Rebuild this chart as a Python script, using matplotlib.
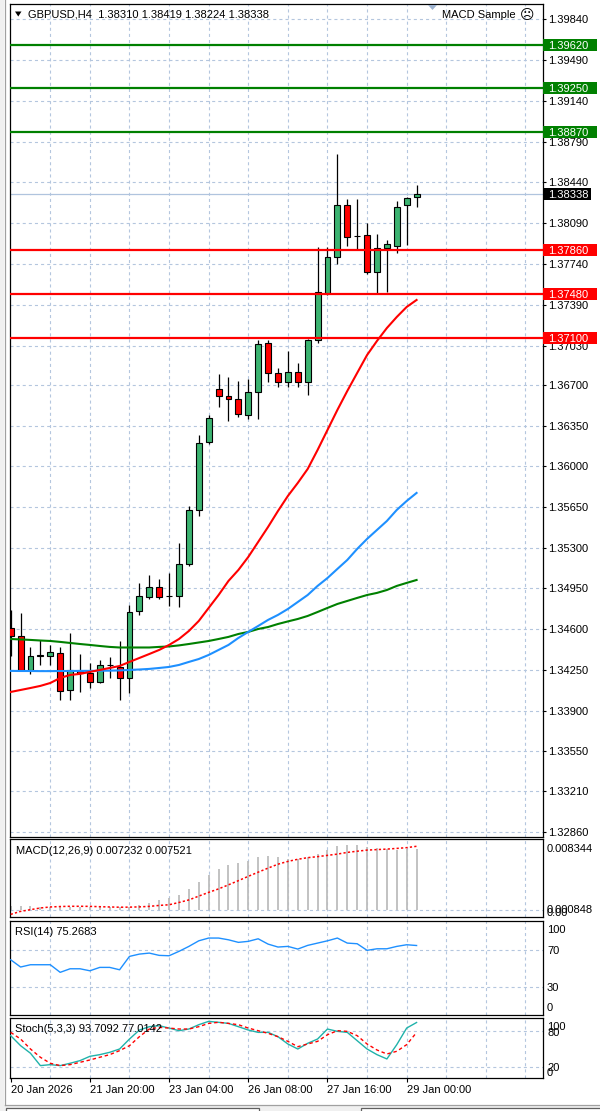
import numpy as np
import matplotlib
matplotlib.use("Agg")
import matplotlib.pyplot as plt
import matplotlib.transforms as mtransforms
from matplotlib.patches import Rectangle, Polygon
from matplotlib.lines import Line2D

plt.rcParams['font.family'] = ['Liberation Sans', 'DejaVu Sans']
plt.rcParams['font.size'] = 8
plt.rcParams['lines.scale_dashes'] = False

# ---------------- data (GBPUSD H4) ----------------
opens = [1.34608, 1.34542, 1.34246, 1.34370, 1.34373, 1.34394, 1.34078, 1.34242, 1.34224, 1.34143,
         1.34290, 1.34272, 1.34179, 1.34753, 1.34875, 1.34966, 1.34888, 1.34886, 1.35158, 1.35622,
         1.36209, 1.36662, 1.36607, 1.36576, 1.36437, 1.36636, 1.37062, 1.36799, 1.36720, 1.36806,
         1.36720, 1.37085, 1.37487, 1.37801, 1.38245, 1.37980, 1.37988, 1.37672, 1.37873, 1.37893,
         1.38245, 1.38310]
highs = [1.34766, 1.34737, 1.34450, 1.34508, 1.34465, 1.34450, 1.34568, 1.34388, 1.34314, 1.34332,
         1.34362, 1.34499, 1.34809, 1.34998, 1.35066, 1.35032, 1.35083, 1.35341, 1.35655, 1.36269,
         1.36441, 1.36789, 1.36766, 1.36733, 1.36748, 1.37085, 1.37085, 1.36842, 1.36991, 1.36885,
         1.37094, 1.37887, 1.37887, 1.38684, 1.38293, 1.38295, 1.38088, 1.37994, 1.37945, 1.38280,
         1.38317, 1.38419]
lows = [1.34370, 1.34240, 1.34216, 1.34293, 1.34293, 1.33988, 1.33988, 1.34064, 1.34093, 1.34134,
        1.34177, 1.33988, 1.34050, 1.34723, 1.34858, 1.34858, 1.34800, 1.34794, 1.35144, 1.35576,
        1.36192, 1.36510, 1.36392, 1.36426, 1.36404, 1.36404, 1.36727, 1.36679, 1.36679, 1.36679,
        1.36613, 1.37060, 1.37472, 1.37734, 1.37890, 1.37865, 1.37652, 1.37481, 1.37500, 1.37830,
        1.37902, 1.38224]
closes = [1.34538, 1.34246, 1.34370, 1.34375, 1.34405, 1.34065, 1.34246, 1.34222, 1.34150, 1.34293,
          1.34295, 1.34179, 1.34744, 1.34882, 1.34966, 1.34875, 1.34883, 1.35158, 1.35622, 1.36203,
          1.36418, 1.36604, 1.36576, 1.36447, 1.36637, 1.37049, 1.36799, 1.36720, 1.36806, 1.36720,
          1.37085, 1.37495, 1.37801, 1.38245, 1.37968, 1.37975, 1.37672, 1.37873, 1.37908, 1.38226,
          1.38303, 1.38338]

ma_red = [1.34061, 1.34078, 1.34095, 1.34113, 1.34138, 1.34181, 1.34207, 1.34216, 1.34233, 1.34250,
          1.34267, 1.34284, 1.34319, 1.34353, 1.34387, 1.34422, 1.34465, 1.34516, 1.34585, 1.34671,
          1.34783, 1.34894, 1.35015, 1.35109, 1.35221, 1.35350, 1.35479, 1.35616, 1.35745, 1.35857,
          1.35977, 1.36140, 1.36312, 1.36484, 1.36647, 1.36802, 1.36956, 1.37077, 1.37188, 1.37283,
          1.37369, 1.37429]
ma_blue = [1.34242, 1.34241, 1.34241, 1.34240, 1.34240, 1.34241, 1.34241, 1.34242, 1.34242, 1.34243,
           1.34244, 1.34246, 1.34250, 1.34254, 1.34259, 1.34267, 1.34276, 1.34293, 1.34319, 1.34344,
           1.34379, 1.34422, 1.34465, 1.34525, 1.34577, 1.34628, 1.34680, 1.34723, 1.34774, 1.34834,
           1.34894, 1.34972, 1.35040, 1.35118, 1.35195, 1.35290, 1.35376, 1.35453, 1.35530, 1.35625,
           1.35702, 1.35771]
ma_green = [1.34516, 1.34512, 1.34508, 1.34503, 1.34499, 1.34491, 1.34482, 1.34473, 1.34465, 1.34456,
            1.34448, 1.34443, 1.34443, 1.34443, 1.34443, 1.34448, 1.34452, 1.34461, 1.34473, 1.34486,
            1.34499, 1.34516, 1.34534, 1.34559, 1.34577, 1.34602, 1.34619, 1.34645, 1.34667, 1.34688,
            1.34714, 1.34748, 1.34783, 1.34817, 1.34843, 1.34869, 1.34894, 1.34912, 1.34937, 1.34972,
            1.34998, 1.35023]

macd_main = [0.00050, 0.00050, 0.00048, 0.00042, 0.00040, 0.00038, 0.00036, 0.00035, 0.00034, 0.00035,
             0.00034, 0.00033, 0.00040, 0.00057, 0.00084, 0.00124, 0.00140, 0.00183, 0.00250, 0.00332,
             0.00408, 0.00479, 0.00534, 0.00550, 0.00577, 0.00625, 0.00636, 0.00628, 0.00605, 0.00600,
             0.00620, 0.00660, 0.00710, 0.00755, 0.00763, 0.00770, 0.00747, 0.00730, 0.00715, 0.00712,
             0.00718, 0.007232]
macd_signal = [-0.00050, -0.00015, 0.00005, 0.00025, 0.00037, 0.00042, 0.00045, 0.00045, 0.00044, 0.00040,
               0.00037, 0.00034, 0.00035, 0.00038, 0.00044, 0.00055, 0.00063, 0.00090, 0.00120, 0.00165,
               0.00209, 0.00250, 0.00298, 0.00347, 0.00398, 0.00447, 0.00495, 0.00541, 0.00574, 0.00599,
               0.00618, 0.00630, 0.00645, 0.00660, 0.00680, 0.00694, 0.00707, 0.00713, 0.00719, 0.00727,
               0.00736, 0.007521]
rsi = [59.7, 51.8, 54.3, 54.3, 54.3, 46.0, 49.9, 49.9, 47.7, 51.4,
       51.4, 48.8, 63.4, 65.9, 67.0, 64.5, 64.1, 68.9, 74.3, 80.4,
       83.4, 83.4, 81.5, 78.7, 79.8, 82.6, 76.8, 73.6, 74.3, 71.4,
       75.4, 77.9, 80.4, 83.4, 77.9, 77.2, 70.0, 71.7, 71.7, 74.3,
       76.1, 75.27]
stoch_main = [71.7, 55.0, 42.3, 21.7, 23.3, 21.7, 25.6, 30.0, 37.2, 40.0,
              43.9, 49.4, 66.1, 81.1, 86.7, 88.3, 84.4, 80.0, 82.8, 90.0,
              95.6, 94.0, 92.2, 86.7, 81.1, 77.2, 77.2, 70.0, 57.8, 49.4,
              58.9, 66.1, 82.8, 78.9, 77.2, 63.3, 49.4, 40.0, 32.8, 56.7,
              84.4, 93.7]
stoch_signal = [77.2, 66.1, 49.4, 35.6, 25.6, 21.7, 23.3, 27.2, 31.1, 35.6,
                40.0, 46.7, 55.0, 70.0, 82.8, 85.6, 84.4, 82.8, 82.8, 86.7,
                92.2, 94.0, 92.2, 90.0, 84.4, 80.0, 75.6, 70.0, 62.2, 53.3,
                57.8, 62.2, 73.3, 80.0, 78.9, 71.7, 57.8, 47.8, 41.1, 45.6,
                56.7, 77.0]

resistance_levels = [1.39620, 1.39250, 1.38870]
support_levels = [1.37860, 1.37480, 1.37100]
last_price = 1.38338
price_ticks = [1.39840, 1.39490, 1.39140, 1.38790, 1.38440, 1.38090, 1.37740, 1.37390, 1.37030,
               1.36700, 1.36350, 1.36000, 1.35650, 1.35300, 1.34950, 1.34600, 1.34250, 1.33900,
               1.33550, 1.33210, 1.32860]
date_tick_idx = [0, 8, 16, 24, 32, 40]
date_tick_labels = ['20 Jan 2026', '21 Jan 20:00', '23 Jan 04:00', '26 Jan 08:00', '27 Jan 16:00', '29 Jan 00:00']
rsi_levels = [70, 30]
stoch_levels = [80, 20]

title_main = 'GBPUSD,H4  1.38310 1.38419 1.38224 1.38338'
title_macd = 'MACD(12,26,9) 0.007232 0.007521'
title_rsi = 'RSI(14) 75.2683'
title_stoch = 'Stoch(5,3,3) 93.7092 77.0142'

# ---------------- layout ----------------
W, H = 600, 1111
fig = plt.figure(figsize=(W / 100, H / 100), dpi=100)
fig.patch.set_facecolor('white')


def fx(px):
    return px / W


def fy(py):
    return 1 - py / H


def add_panel(x0, y0, x1, y1):
    return fig.add_axes([fx(x0), fy(y1), (x1 - x0) / W, (y1 - y0) / H])


PL, PR = 9.6, 542.6
MAIN_TOP, MAIN_BOT = 4, 836.5
ax = add_panel(PL, MAIN_TOP, PR, MAIN_BOT)
ax_macd = add_panel(PL, 839.3, PR, 917.3)
ax_rsi = add_panel(PL, 921, PR, 1014.7)
ax_st = add_panel(PL, 1018, PR, 1078.3)
panels = [ax, ax_macd, ax_rsi, ax_st]

GRID = '#B4C6DE'
DASH = (0, (2.2, 2.2))
n = len(closes)
xi = np.arange(n)
grid_x = np.arange(4, 54, 4)

for a in panels:
    a.set_facecolor('white')
    a.set_xlim(-0.11, 53.73)
    for s in a.spines.values():
        s.set_color('black')
        s.set_linewidth(0.9)
    a.set_xticks(grid_x)
    a.tick_params(axis='x', which='major', length=0, labelbottom=False)
    a.grid(axis='x', which='major', color=GRID, ls=DASH, lw=0.8)
    a.set_axisbelow(True)


def axfrac(px):
    return (px - PL) / (PR - PL)


# ---------------- main price panel ----------------
YMIN, YMAX = 1.32819, 1.39972
ax.set_ylim(YMIN, YMAX)
ax.yaxis.tick_right()
ax.set_yticks(price_ticks)
ax.set_yticklabels([f'{v:.5f}' for v in price_ticks])
ax.tick_params(axis='y', length=2.2, width=0.8, pad=1.8, labelsize=8, colors='black')
ax.grid(axis='y', color=GRID, ls=DASH, lw=0.8)

ax.axhline(last_price, color='#B0C4DE', lw=0.9, zorder=1)

o = np.array(opens)
c = np.array(closes)
body_col = np.where(c >= o, '#3CB371', '#FF0000')
ax.vlines(xi, lows, highs, colors='black', lw=0.9, zorder=3)
ax.bar(xi, np.abs(c - o), bottom=np.minimum(o, c), width=0.6, color=body_col,
       edgecolor='black', linewidth=0.8, zorder=4)

ax.plot(xi, ma_green, color='#008000', lw=1.5, zorder=5)
ax.plot(xi, ma_blue, color='#1E90FF', lw=1.5, zorder=5)
ax.plot(xi, ma_red, color='#FF0000', lw=1.5, zorder=5)

for lv in resistance_levels:
    ax.axhline(lv, color='#008000', lw=1.6, zorder=6)
for lv in support_levels:
    ax.axhline(lv, color='#FF0000', lw=1.6, zorder=6)

ytr = ax.get_yaxis_transform()
dpp = (YMAX - YMIN) / (MAIN_BOT - MAIN_TOP)


def price_tag(val, fc, right=596.5):
    ax.add_patch(Rectangle((axfrac(543.5), val - 6 * dpp), axfrac(right) - axfrac(543.5), 12 * dpp,
                           transform=ytr, fc=fc, ec='none', clip_on=False, zorder=10))
    ax.text(axfrac(548), val, f'{val:.5f}', transform=ytr, color='white', va='center_baseline',
            ha='left', fontsize=8, clip_on=False, zorder=11)


for lv in resistance_levels:
    price_tag(lv, '#008000')
for lv in support_levels:
    price_tag(lv, '#FF0000')
price_tag(last_price, 'black', right=591)

# ---------------- MACD panel ----------------
ax_macd.set_ylim(-0.000848, 0.008344)
ax_macd.set_yticks([])
ax_macd.axhline(0, color=GRID, ls=DASH, lw=0.8, zorder=1)
ax_macd.vlines(xi, 0, macd_main, colors='#BDBDBD', lw=1.3, zorder=2)
ax_macd.plot(xi, macd_signal, color='#FF0000', lw=1.1, ls=(0, (1.6, 1.6)), zorder=3)

# ---------------- RSI panel ----------------
ax_rsi.set_ylim(-0.2, 102)
ax_rsi.set_yticks([])
for lv in rsi_levels:
    ax_rsi.axhline(lv, color=GRID, ls=DASH, lw=0.8, zorder=1)
ax_rsi.plot(xi, rsi, color='#1E90FF', lw=1.0, zorder=3)

# ---------------- Stochastic panel ----------------
ax_st.set_ylim(0.5, 101.2)
ax_st.set_yticks([])
for lv in stoch_levels:
    ax_st.axhline(lv, color=GRID, ls=DASH, lw=0.8, zorder=1)
ax_st.plot(xi, stoch_main, color='#20B2AA', lw=1.0, zorder=3)
ax_st.plot(xi, stoch_signal, color='#FF0000', lw=1.0, ls=(0, (2.5, 2.0)), zorder=3)

ax_st.xaxis.remove_overlapping_locs = False
ax_st.set_xticks(date_tick_idx, minor=True)
ax_st.set_xticklabels(date_tick_labels, minor=True, ha='left')
ax_st.tick_params(axis='x', which='minor', length=3, width=0.8, pad=2, labelsize=8,
                  labelbottom=True, direction='out', colors='black')


def side_label(a, val, text, dy_px):
    tr = mtransforms.offset_copy(a.get_yaxis_transform(), fig=fig, x=0, y=dy_px, units='dots')
    a.text(axfrac(547), val, text, transform=tr, ha='left', va='center_baseline',
           fontsize=8, clip_on=False, color='black')


side_label(ax_macd, 0.008344, '0.008344', -9)
side_label(ax_macd, 0.0, '0.00', -1.5)
side_label(ax_macd, 0.0, '0.000848', 1)
side_label(ax_rsi, 100, '100', -6.5)
side_label(ax_rsi, 70, '70', 0)
side_label(ax_rsi, 30, '30', 0)
side_label(ax_rsi, 0, '0', 7.8)
side_label(ax_st, 100, '100', -7.3)
side_label(ax_st, 80, '80', -1)
side_label(ax_st, 20, '20', 0)
side_label(ax_st, 0, '0', 7)

# ---------------- titles ----------------
fig.add_artist(Polygon([(fx(15), fy(11.5)), (fx(21.5), fy(11.5)), (fx(18.25), fy(16.5))],
                       closed=True, transform=fig.transFigure, fc='black', ec='none'))
fig.text(fx(28.5), fy(14.5), title_main, ha='left', va='center', fontsize=8)
fig.add_artist(Polygon([(fx(428), fy(5)), (fx(437), fy(5)), (fx(432.5), fy(10))],
                       closed=True, transform=fig.transFigure, fc='#9DB2CF', ec='none'))
fig.text(fx(441.5), fy(15), 'MACD Sample', ha='left', va='center', fontsize=8)
fig.text(fx(527), fy(15), '\u2639', ha='center', va='center', fontsize=10, family='DejaVu Sans')

fig.text(fx(16), fy(851), title_macd, ha='left', va='center', fontsize=8)
fig.text(fx(15), fy(932), title_rsi, ha='left', va='center', fontsize=8)
fig.text(fx(15), fy(1029), title_stoch, ha='left', va='center', fontsize=8)

# ---------------- window frame ----------------
fig.add_artist(Rectangle((0, fy(1105)), fx(4.2), 1 - fy(1105), transform=fig.transFigure,
                         fc='#F0F0F0', ec='none', zorder=0.5))
fig.add_artist(Rectangle((0, 0), 1, fy(1105), transform=fig.transFigure,
                         fc='#F0F0F0', ec='none', zorder=0.5))
fig.add_artist(Line2D([fx(4.6), fx(4.6)], [fy(0), fy(1105)], transform=fig.transFigure,
                      color='#A0A0A0', lw=0.9))
fig.add_artist(Line2D([fx(4.6), 1], [fy(1105), fy(1105)], transform=fig.transFigure,
                      color='#A0A0A0', lw=0.9))
fig.add_artist(Rectangle((fx(5.8), -0.01), fx(259) - fx(5.8), fy(1108) + 0.01, transform=fig.transFigure,
                         fc='white', ec='#606060', lw=0.9))
fig.add_artist(Rectangle((fx(361), -0.01), 1 - fx(361) + 0.01, fy(1108) + 0.01, transform=fig.transFigure,
                         fc='white', ec='#606060', lw=0.9))

fig.savefig('out.png', dpi=100, facecolor='white')
